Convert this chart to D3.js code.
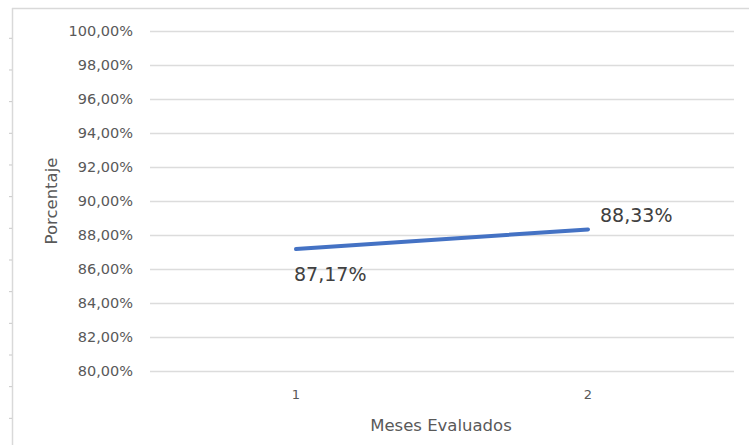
<!DOCTYPE html>
<html>
<head>
<meta charset="utf-8">
<script src="https://cdn.jsdelivr.net/npm/d3@7"></script>
<style>
  html, body { margin: 0; padding: 0; background: #fff; }
  svg { display: block; font-family: "DejaVu Sans", sans-serif; }
</style>
</head>
<body>
<svg id="chart" width="749" height="445"></svg>
<script>
// Monthly evaluation percentages
const months = ["1", "2"];
const percentages = [87.17, 88.33];
const yTicks = [80, 82, 84, 86, 88, 90, 92, 94, 96, 98, 100];

const svg = d3.select("#chart");
const W = 749, H = 445;
const plot = { left: 150, right: 734, top: 31, bottom: 371 };

const fmt = v => d3.format(".2f")(v).replace(".", ",") + "%";

// Outer frame: left and top edges
svg.append("line").attr("x1", 12.5).attr("x2", 12.5).attr("y1", 8).attr("y2", H)
  .attr("stroke", "#d9d9d9").attr("stroke-width", 1.5);
svg.append("line").attr("x1", 12).attr("x2", W).attr("y1", 8.5).attr("y2", 8.5)
  .attr("stroke", "#d9d9d9").attr("stroke-width", 1.5);
// Small row marks along the left edge
svg.append("g").selectAll("line").data(d3.range(13)).join("line")
  .attr("x1", 9).attr("x2", 12)
  .attr("y1", i => 38.3 + i * 31.67).attr("y2", i => 38.3 + i * 31.67)
  .attr("stroke", "#c8c8c8").attr("stroke-width", 1);

const x = d3.scaleBand().domain(months).range([plot.left, plot.right]);
const y = d3.scaleLinear().domain([80, 100]).range([plot.bottom, plot.top]);

// Horizontal gridlines with y labels
const yAxis = d3.axisLeft(y).tickValues(yTicks)
  .tickSize(-(plot.right - plot.left)).tickPadding(17).tickFormat(fmt);
const gy = svg.append("g").attr("transform", `translate(${plot.left},0)`).call(yAxis);
gy.select(".domain").remove();
gy.selectAll(".tick line").attr("stroke", "#dcdcdc").attr("stroke-width", 1.5);
gy.selectAll(".tick text").attr("fill", "#595959")
  .style("font-size", "14.5px").style("font-family", "DejaVu Sans, sans-serif");

// Category labels
const xAxis = d3.axisBottom(x).tickSize(0).tickPadding(19);
const gx = svg.append("g").attr("transform", `translate(0,${plot.bottom})`).call(xAxis);
gx.select(".domain").remove();
gx.selectAll(".tick text").attr("fill", "#595959")
  .style("font-size", "13px").style("font-family", "DejaVu Sans, sans-serif");

// Axis titles
svg.append("text").attr("x", (plot.left + plot.right) / 2 - 1).attr("y", 431)
  .attr("text-anchor", "middle").attr("fill", "#595959")
  .style("font-size", "16.5px").text("Meses Evaluados");
svg.append("text").attr("transform", "translate(57,201) rotate(-90)")
  .attr("text-anchor", "middle").attr("fill", "#595959")
  .style("font-size", "16.5px").text("Porcentaje");

// Series line
const data = months.map((m, i) => ({ m, v: percentages[i] }));
const line = d3.line().x(d => x(d.m) + x.bandwidth() / 2).y(d => y(d.v));
svg.append("path").datum(data).attr("d", line)
  .attr("fill", "none").attr("stroke", "#4472C4").attr("stroke-width", 4)
  .attr("stroke-linecap", "round");

// Data labels: first below the point, second above-right
const labelPos = [{ dx: -2, dy: 32 }, { dx: 12, dy: -7 }];
svg.append("g").selectAll("text").data(data).join("text")
  .attr("x", (d, i) => x(d.m) + x.bandwidth() / 2 + labelPos[i].dx)
  .attr("y", (d, i) => y(d.v) + labelPos[i].dy)
  .attr("fill", "#404040").style("font-size", "19px")
  .text(d => fmt(d.v));
</script>
</body>
</html>
